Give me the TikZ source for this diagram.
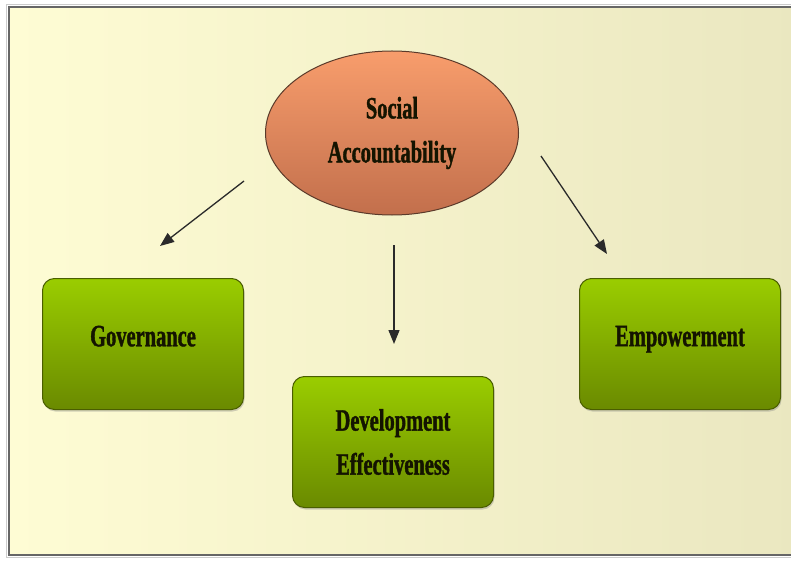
\documentclass[tikz,border=0pt]{standalone}
\usepackage{fontspec}
\newfontfamily\lblfont[FakeStretch=0.66,FakeBold=1.2]{Liberation Serif}
\usetikzlibrary{shapes.geometric,arrows.meta,shadows}
\definecolor{bgL}{HTML}{FEFCD4}
\definecolor{bgR}{HTML}{EAE7C0}
\definecolor{grT}{HTML}{9ACD00}
\definecolor{grB}{HTML}{6A8A00}
\definecolor{grE}{HTML}{4A5E00}
\definecolor{orT}{HTML}{F89D6C}
\definecolor{orB}{HTML}{C26F4C}
\definecolor{orE}{HTML}{5A3A2A}
\definecolor{txt}{HTML}{141400}
\definecolor{arr}{HTML}{2A2A2A}
\tikzset{
  lbl/.style={font=\lblfont\bfseries\fontsize{31}{44}\selectfont, text=txt, align=center},
  gbox/.style={lbl, rectangle, rounded corners=12pt, minimum width=201pt, minimum height=131pt,
    draw=grE, line width=1pt, top color=grT, bottom color=grB,
    drop shadow={shadow xshift=1pt, shadow yshift=-2pt, opacity=0.35}},
  raised/.style={text depth=16pt},
  oval/.style={lbl, ellipse, minimum width=253pt, minimum height=164pt, inner sep=0pt,
    draw=orE, line width=1pt, top color=orT, bottom color=orB},
  conn/.style={draw=arr, line width=1.3pt, -{Triangle[length=14pt,width=11pt]}}
}
\begin{document}
\begin{tikzpicture}[x=1pt,y=-1pt]
\useasboundingbox (0,0) rectangle (791,561);
\fill[white] (0,0) rectangle (791,561);
\shade[left color=bgL, right color=bgR] (9,7) rectangle (800,555);
\draw[draw=gray!80!black, line width=1.5pt] (800,7) -- (9,7) -- (9,555) -- (800,555);
\draw[draw=gray!40, line width=1pt] (800,4.5) -- (6.5,4.5) -- (6.5,557.5) -- (800,557.5);

\node[oval] (sa) at (392,133) {Social\\Accountability};
\node[gbox, raised] (gov) at (143,344) {Governance};
\node[gbox] (dev) at (393,442) {Development\\Effectiveness};
\node[gbox, raised] (emp) at (680,344) {Empowerment};

\coordinate (a1s) at (244,181);
\coordinate (a1e) at (160,246);
\coordinate (a2s) at (394,245);
\coordinate (a2e) at (394,344);
\coordinate (a3s) at (541,156);
\coordinate (a3e) at (607,254);
\draw[conn] (a1s) -- (a1e);
\draw[conn] (a2s) -- (a2e);
\draw[conn] (a3s) -- (a3e);
\end{tikzpicture}
\end{document}
